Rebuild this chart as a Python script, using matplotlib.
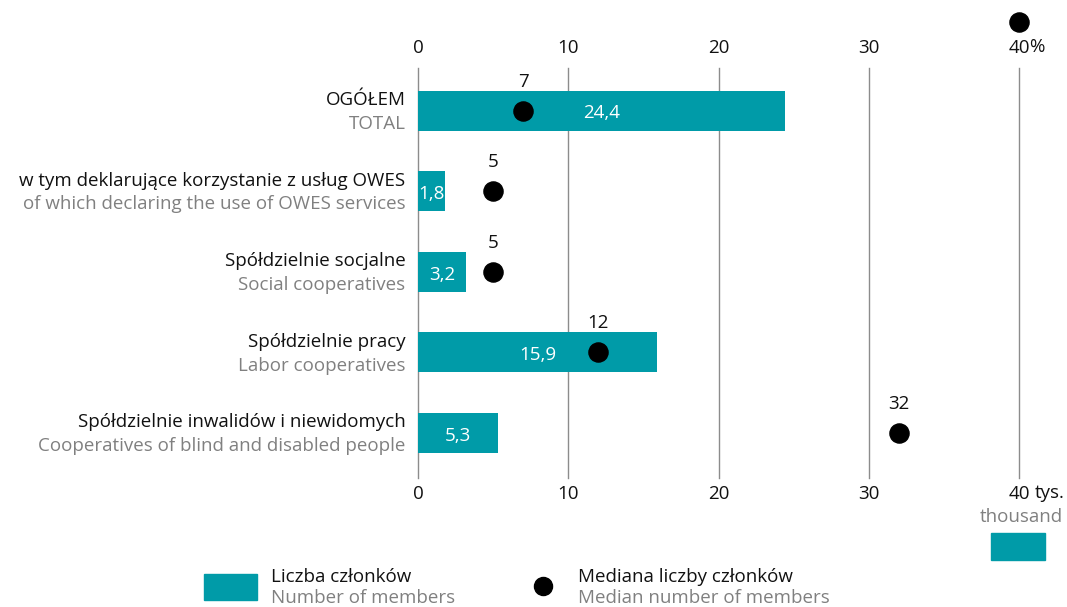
import matplotlib
matplotlib.use("Agg")
import matplotlib.pyplot as plt
from matplotlib.patches import Rectangle
from matplotlib.transforms import blended_transform_factory

plt.rcParams["font.family"] = ["Open Sans", "DejaVu Sans"]

kategorie_pl = [
    "OGÓŁEM",
    "w tym deklarujące korzystanie z usług OWES",
    "Spółdzielnie socjalne",
    "Spółdzielnie pracy",
    "Spółdzielnie inwalidów i niewidomych",
]
kategorie_en = [
    "TOTAL",
    "of which declaring the use of OWES services",
    "Social cooperatives",
    "Labor cooperatives",
    "Cooperatives of blind and disabled people",
]
liczba_czlonkow = [24.4, 1.8, 3.2, 15.9, 5.3]
mediana = [7, 5, 5, 12, 32]
ticki = [0, 10, 20, 30, 40]

TEAL = "#009ba8"
SZARY = "#808080"
CZARNY = "#111111"
FS = 13.5

fig = plt.figure(figsize=(10.67, 6.07), dpi=100)
W, H = 1067, 607
ax = fig.add_axes([418 / W, 1 - 478 / H, (1019 - 418) / W, (478 - 68) / H])

pozycje = list(range(len(kategorie_pl)))
ax.barh(pozycje, liczba_czlonkow, height=0.5, color=TEAL, zorder=2)

for y, v in zip(pozycje, liczba_czlonkow):
    ax.annotate(f"{v:.1f}".replace(".", ","), xy=(v / 2, y), xytext=(0, -2),
                textcoords="offset points", ha="center", va="center",
                color="white", fontsize=FS, zorder=4)

ax.scatter(mediana, pozycje, s=190, color="black", zorder=3)
for y, m in zip(pozycje, mediana):
    ax.annotate(str(m), xy=(m, y), xytext=(0, 21), textcoords="offset points",
                ha="center", va="center", color=CZARNY, fontsize=FS)

for y, pl, en in zip(pozycje, kategorie_pl, kategorie_en):
    ax.annotate(pl, xy=(0, y), xytext=(-9, 7.5), textcoords="offset points",
                ha="right", va="center", color=CZARNY, fontsize=FS)
    ax.annotate(en, xy=(0, y), xytext=(-9, -9.5), textcoords="offset points",
                ha="right", va="center", color=SZARY, fontsize=FS)

ax.set_xlim(0, 40)
ax.set_ylim(4.56, -0.53)
ax.set_xticks(ticki)
ax.set_xticklabels([str(t) for t in ticki], fontsize=FS, color=CZARNY)
ax.set_yticks([])
ax.tick_params(axis="x", length=0, pad=5)

gora = ax.secondary_xaxis("top")
gora.set_xticks(ticki)
gora.set_xticklabels([str(t) for t in ticki], fontsize=FS, color=CZARNY)
gora.tick_params(axis="x", length=0, pad=8)
for s in gora.spines.values():
    s.set_visible(False)

for t in ticki:
    ax.axvline(t, color="#8c8c8c", linewidth=1, zorder=1, clip_on=False)
for s in ax.spines.values():
    s.set_visible(False)

# sufiksy jednostek
tr = blended_transform_factory(ax.transData, fig.transFigure)
ax.annotate("%", xy=(40, 1 - 47 / H), xycoords=tr, xytext=(7, 0),
            textcoords="offset points", ha="left", va="center",
            fontsize=FS, color=CZARNY)
ax.annotate("tys.", xy=(40, 1 - 493 / H), xycoords=tr, xytext=(11, 0),
            textcoords="offset points", ha="left", va="center",
            fontsize=FS, color=CZARNY)
fig.text(1063 / W, 1 - 517 / H, "thousand", ha="right", va="center",
         fontsize=FS, color=SZARY)
ax.scatter([40], [1 - 22 / H], s=190, color="black", transform=tr,
           clip_on=False)
fig.add_artist(Rectangle((991 / W, 1 - 560 / H), 54 / W, 27 / H,
                         transform=fig.transFigure, color=TEAL))

# legenda
fig.add_artist(Rectangle((204 / W, 1 - 600 / H), 53 / W, 26 / H,
                         transform=fig.transFigure, color=TEAL))
fig.text(271 / W, 1 - 577 / H, "Liczba członków", ha="left", va="center",
         fontsize=FS, color=CZARNY)
fig.text(271 / W, 1 - 598 / H, "Number of members", ha="left", va="center",
         fontsize=FS, color=SZARY)
fig.add_artist(plt.Line2D([543 / W], [1 - 586 / H], marker="o", markersize=13,
                          color="black", transform=fig.transFigure))
fig.text(578 / W, 1 - 577 / H, "Mediana liczby członków", ha="left",
         va="center", fontsize=FS, color=CZARNY)
fig.text(578 / W, 1 - 598 / H, "Median number of members", ha="left",
         va="center", fontsize=FS, color=SZARY)

fig.savefig("out.png", dpi=100)
